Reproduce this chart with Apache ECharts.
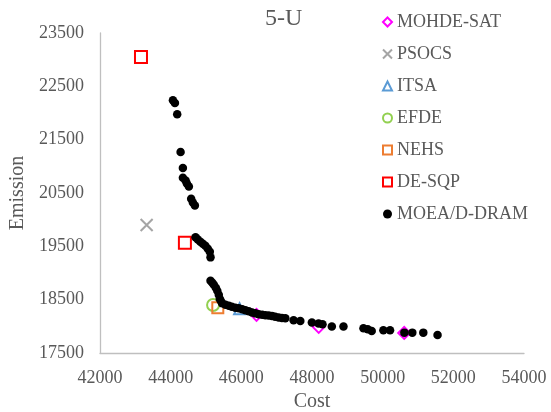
<!DOCTYPE html>
<html>
<head>
<meta charset="utf-8">
<script src="https://cdn.jsdelivr.net/npm/echarts@6/dist/echarts.min.js"></script>
<style>
  html, body { margin: 0; padding: 0; background: #fff; }
  #chart { width: 551px; height: 412px; }
</style>
</head>
<body>
<div id="chart"></div>
<script>
// Cost / emission trade-off for the 5-unit case
const costTicks = [42000, 44000, 46000, 48000, 50000, 52000, 54000];
const emissionTicks = [17500, 18500, 19500, 20500, 21500, 22500, 23500];

const mohdeSat = [[46430, 18215], [48190, 17990], [50610, 17876]];
const psocs = [[43320, 19900]];
const itsa = [[45950, 18330]];
const efde = [[45200, 18400]];
const nehs = [[45334, 18350]];
const deSqp = [[43160, 23048], [44403, 19569]];
const moeadDram = [
  [44064, 22240], [44120, 22189], [44185, 21977], [44281, 21268], [44346, 20967],
  [44346, 20786], [44422, 20735], [44459, 20679], [44515, 20622], [44580, 20391],
  [44628, 20322], [44685, 20265], [44704, 19669], [44769, 19626], [44840, 19588],
  [44910, 19550], [44981, 19513], [45052, 19456], [45108, 19400], [45128, 19293],
  [45128, 18854], [45179, 18817], [45221, 18779], [45278, 18723], [45320, 18666],
  [45362, 18591], [45390, 18516], [45419, 18478], [45455, 18431], [45551, 18403],
  [45645, 18384], [45729, 18365], [45828, 18350], [45927, 18341], [46026, 18322],
  [46116, 18303], [46209, 18281], [46302, 18258], [46398, 18243], [46491, 18228],
  [46590, 18215], [46681, 18209], [46774, 18204], [46867, 18196], [46957, 18181],
  [47056, 18164], [47149, 18158], [47245, 18153], [47479, 18115], [47669, 18102],
  [47996, 18070], [48185, 18051], [48298, 18040], [48561, 17995], [48891, 17995],
  [49456, 17965], [49577, 17946], [49690, 17914], [50020, 17927], [50209, 17927],
  [50613, 17882], [50839, 17882], [51150, 17882], [51553, 17839]
];

const textColor = '#595959';
const serif = '"Liberation Serif", "Times New Roman", serif';
const hollow = 'rgba(0,0,0,0)';

function outlined(name, data, symbol, size, color) {
  return {
    name, type: 'scatter', data, symbol, symbolSize: size,
    itemStyle: { color: hollow, borderColor: color, borderWidth: 2, opacity: 1 }
  };
}

const chart = echarts.init(document.getElementById('chart'));
chart.setOption({
  animation: false,
  backgroundColor: '#fff',
  title: {
    text: '5-U',
    left: 260, top: 2,
    textStyle: { fontFamily: serif, fontSize: 24, fontWeight: 'normal', color: textColor }
  },
  legend: {
    orient: 'vertical',
    left: 377, top: 8,
    itemWidth: 9, itemHeight: 9, itemGap: 14,
    textStyle: { fontFamily: serif, fontSize: 18, color: textColor },
    data: ['MOHDE-SAT', 'PSOCS', 'ITSA', 'EFDE', 'NEHS', 'DE-SQP', 'MOEA/D-DRAM']
  },
  grid: { left: 100, right: 27, top: 33, bottom: 59, outerBoundsMode: 'none', containLabel: false },
  xAxis: {
    type: 'value',
    min: costTicks[0], max: costTicks[costTicks.length - 1], interval: 2000,
    name: 'Cost', nameLocation: 'middle', nameGap: 29,
    nameTextStyle: { fontFamily: serif, fontSize: 20, color: textColor },
    axisLine: { show: true, lineStyle: { color: '#bfbfbf', width: 1.3 } },
    axisTick: { show: false },
    splitLine: { show: false },
    axisLabel: {
      fontFamily: serif, fontSize: 18, color: textColor, margin: 16,
      formatter: v => String(v)
    }
  },
  yAxis: {
    type: 'value',
    min: emissionTicks[0], max: emissionTicks[emissionTicks.length - 1], interval: 500,
    name: 'Emission', nameLocation: 'middle', nameGap: 71,
    nameTextStyle: { fontFamily: serif, fontSize: 20, color: textColor },
    axisLine: { show: true, lineStyle: { color: '#bfbfbf', width: 1.3 } },
    axisTick: { show: false },
    splitLine: { show: false },
    axisLabel: {
      fontFamily: serif, fontSize: 18, color: textColor, margin: 16,
      formatter: v => (emissionTicks.includes(v) ? String(v) : '')
    }
  },
  series: [
    outlined('MOHDE-SAT', mohdeSat, 'diamond', 12, '#ff00ff'),
    outlined('PSOCS', psocs, 'path://M0,0L10,10M10,0L0,10', 12, '#a5a5a5'),
    outlined('ITSA', itsa, 'triangle', 11, '#5b9bd5'),
    outlined('EFDE', efde, 'circle', 12, '#92d050'),
    outlined('NEHS', nehs, 'rect', 11, '#ed7d31'),
    outlined('DE-SQP', deSqp, 'rect', 12, '#ff0000'),
    {
      name: 'MOEA/D-DRAM', type: 'scatter', data: moeadDram,
      symbol: 'circle', symbolSize: 8.5,
      itemStyle: { color: '#000', opacity: 1 }
    }
  ]
});
</script>
</body>
</html>
